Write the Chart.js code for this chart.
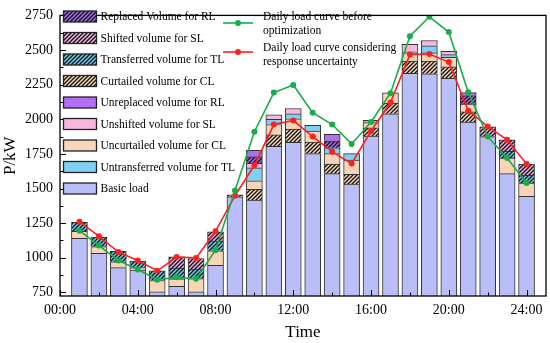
<!DOCTYPE html>
<html>
<head>
<meta charset="utf-8">
<script src="https://cdn.jsdelivr.net/npm/chart.js@4/dist/chart.umd.min.js"></script>
<style>
  html, body { margin: 0; padding: 0; background: #fff; }
</style>
</head>
<body>
<canvas id="loadChart" width="550" height="343"></canvas>
<script>
// hour of each bar
const hours = [1,2,3,4,5,6,7,8,9,10,11,12,13,14,15,16,17,18,19,20,21,22,23,24];

// stacked components (kW)
const basicLoad      = [1140,1032,929,911,754,794,755,946,1440,1416,1805,1833,1752,1607,1532,1878,2039,2331,2329,2296,1980,1875,1607,1444];
const curtailedCL    = [0,0,0,0,0,0,0,0,15,79,82,96,84,70,70,60,77,89,91,82,73,0,0,0];
const uncurtailedCL  = [51,49,42,18,82,54,95,105,0,61,75,75,79,75,103,38,75,59,59,70,56,0,112,95];
const transferredTL  = [65,68,75,47,70,77,68,70,0,0,0,0,0,0,0,0,0,0,0,0,0,0,49,56];
const untransferredTL= [0,0,0,0,0,0,0,0,0,93,37,35,42,42,47,16,0,8,51,19,0,0,0,0];
const shiftedSL      = [0,0,0,0,0,81,77,66,0,0,0,0,0,0,0,0,0,0,0,0,0,70,84,82];
const unshiftedSL    = [0,0,0,0,0,0,0,0,0,33,33,39,0,0,0,0,0,54,39,23,0,0,0,0];
const replacedRL     = [0,0,0,0,0,0,0,0,0,46,0,0,0,51,0,0,0,0,0,0,62,0,0,0];
const unreplacedRL   = [0,0,0,0,0,0,0,0,0,47,0,0,0,47,0,0,0,0,0,0,21,0,0,0];

// curves
const beforeOpt   = [1196,1088,981,915,841,859,848,1055,1486,1910,2193,2247,2048,1962,1822,1980,2188,2600,2740,2630,2196,1875,1720,1540];
const uncertainty = [1261,1156,1041,981,906,1006,999,1191,1448,1668,1962,1992,1875,1766,1680,1915,2121,2467,2471,2413,2062,1948,1852,1677];

// axis ticks
const xTickHours = [0,4,8,12,16,20,24];
const xTickLabels = ['00:00','04:00','08:00','12:00','16:00','20:00','24:00'];
const yTicks = [750,1000,1250,1500,1750,2000,2250,2500,2750];

const serif = 'Liberation Serif';

function hatch(base) {
  const c = document.createElement('canvas');
  c.width = c.height = 4;
  const g = c.getContext('2d');
  g.fillStyle = base;
  g.fillRect(0, 0, 4, 4);
  g.strokeStyle = '#111';
  g.lineWidth = 1.3;
  g.beginPath();
  g.moveTo(0, 4); g.lineTo(4, 0);
  g.moveTo(-1, 1); g.lineTo(1, -1);
  g.moveTo(3, 5); g.lineTo(5, 3);
  g.stroke();
  return g.createPattern(c, 'repeat');
}

const fills = {
  basic: '#b9bff6',
  curtCL: hatch('#f6d8b6'),
  uncurtCL: '#f8d5b8',
  transTL: hatch('#6fcdf2'),
  untransTL: '#80cff5',
  shiftSL: hatch('#f2aee0'),
  unshiftSL: '#f7b7de',
  replRL: hatch('#a96cec'),
  unreplRL: '#b26ef0'
};

function bar(label, values, fill) {
  return {
    type: 'bar', label, order: 3,
    data: values.map((v, i) => ({ x: hours[i], y: v || null })),
    backgroundColor: fill,
    borderColor: '#333',
    borderWidth: 1,
    barThickness: 16,
    stack: 'load'
  };
}

function curve(label, values, color, order) {
  return {
    type: 'line', label, order,
    data: values.map((v, i) => ({ x: hours[i], y: v })),
    borderColor: color,
    backgroundColor: color,
    borderWidth: 1.6,
    pointRadius: 3,
    pointBorderWidth: 0,
    tension: 0,
    stack: label
  };
}

const boxLegend = [
  ['Replaced Volume for RL', fills.replRL],
  ['Shifted volume for SL', fills.shiftSL],
  ['Transferred volume for TL', fills.transTL],
  ['Curtailed volume for CL', fills.curtCL],
  ['Unreplaced volume for RL', fills.unreplRL],
  ['Unshifted volume for SL', fills.unshiftSL],
  ['Uncurtailed volume for CL', fills.uncurtCL],
  ['Untransferred volume for TL', fills.untransTL],
  ['Basic load', fills.basic]
];

const frameAndLegend = {
  id: 'frameAndLegend',
  afterDatasetsDraw(chart) {
    const { ctx, chartArea: a, scales: { x, y } } = chart;
    ctx.save();
    ctx.strokeStyle = '#000';
    ctx.lineWidth = 1;
    ctx.beginPath();
    for (let h = 0; h <= 24; h += 2) {
      const px = Math.round(x.getPixelForValue(h)) + 0.5;
      ctx.moveTo(px, a.bottom);
      ctx.lineTo(px, a.bottom - (h % 4 === 0 ? 6 : 3.5));
    }
    for (let v = 750; v <= 2750; v += 125) {
      const py = Math.round(y.getPixelForValue(v)) + 0.5;
      ctx.moveTo(a.left, py);
      ctx.lineTo(a.left + ((v - 750) % 250 === 0 ? 6 : 3.5), py);
    }
    ctx.stroke();
    ctx.lineWidth = 1.3;
    ctx.strokeRect(a.left, a.top, a.right - a.left, a.bottom - a.top);

    // legend
    ctx.font = '11.5px ' + serif;
    ctx.fillStyle = '#000';
    ctx.textBaseline = 'middle';
    boxLegend.forEach(([text, fill], i) => {
      const cy = 16.5 + i * 21.5;
      ctx.fillStyle = fill;
      ctx.fillRect(63.5, cy - 5.5, 33, 11);
      ctx.lineWidth = 1.3;
      ctx.strokeStyle = '#222';
      ctx.strokeRect(63.5, cy - 5.5, 33, 11);
      ctx.fillStyle = '#000';
      ctx.fillText(text, 100.5, cy + 0.5);
    });
    const lineItems = [
      ['#1aab4a', 23, ['Daily load curve before', 'optimization'], 17],
      ['#ff1f1f', 52, ['Daily load curve considering', 'response uncertainty'], 48]
    ];
    lineItems.forEach(([color, ly, lines, ty]) => {
      ctx.strokeStyle = color;
      ctx.lineWidth = 1.6;
      ctx.beginPath();
      ctx.moveTo(223, ly); ctx.lineTo(253, ly);
      ctx.stroke();
      ctx.fillStyle = color;
      ctx.beginPath();
      ctx.arc(238, ly, 3, 0, Math.PI * 2);
      ctx.fill();
      ctx.fillStyle = '#000';
      lines.forEach((t, k) => ctx.fillText(t, 263, ty + k * 14));
    });
    ctx.restore();
  }
};

new Chart(document.getElementById('loadChart'), {
  data: {
    datasets: [
      bar('Basic load', basicLoad, fills.basic),
      bar('Curtailed volume for CL', curtailedCL, fills.curtCL),
      bar('Uncurtailed volume for CL', uncurtailedCL, fills.uncurtCL),
      bar('Transferred volume for TL', transferredTL, fills.transTL),
      bar('Untransferred volume for TL', untransferredTL, fills.untransTL),
      bar('Shifted volume for SL', shiftedSL, fills.shiftSL),
      bar('Unshifted volume for SL', unshiftedSL, fills.unshiftSL),
      bar('Replaced Volume for RL', replacedRL, fills.replRL),
      bar('Unreplaced volume for RL', unreplacedRL, fills.unreplRL),
      curve('Daily load curve considering response uncertainty', uncertainty, '#ff1f1f', 1),
      curve('Daily load curve before optimization', beforeOpt, '#1aab4a', 0)
    ]
  },
  options: {
    responsive: false,
    animation: false,
    layout: { padding: { top: 6, right: 4, left: 0, bottom: 0 } },
    plugins: {
      legend: { display: false },
      tooltip: { enabled: false }
    },
    scales: {
      x: {
        type: 'linear', min: 0, max: 25, offset: false,
        grid: { display: false, drawTicks: false, offset: false },
        border: { display: false },
        afterBuildTicks: s => { s.ticks = xTickHours.map(v => ({ value: v })); },
        afterFit: s => { s.height = 47; },
        ticks: {
          autoSkip: false, maxRotation: 0, padding: 6, color: '#000',
          font: { family: serif, size: 14 },
          callback: (v, i) => xTickLabels[i]
        },
        title: { display: true, text: 'Time', color: '#000', padding: 0, font: { family: serif, size: 17 } }
      },
      y: {
        stacked: true, min: 724, max: 2750,
        grid: { display: false, drawTicks: false },
        border: { display: false },
        afterBuildTicks: s => { s.ticks = yTicks.map(v => ({ value: v })); },
        afterFit: s => { s.width = 60; },
        ticks: {
          padding: 7, color: '#000',
          font: { family: serif, size: 14 },
          callback: v => String(v)
        },
        title: { display: true, text: 'P/kW', color: '#000', padding: 0, font: { family: serif, size: 17 } }
      }
    }
  },
  plugins: [frameAndLegend]
});
</script>
</body>
</html>
